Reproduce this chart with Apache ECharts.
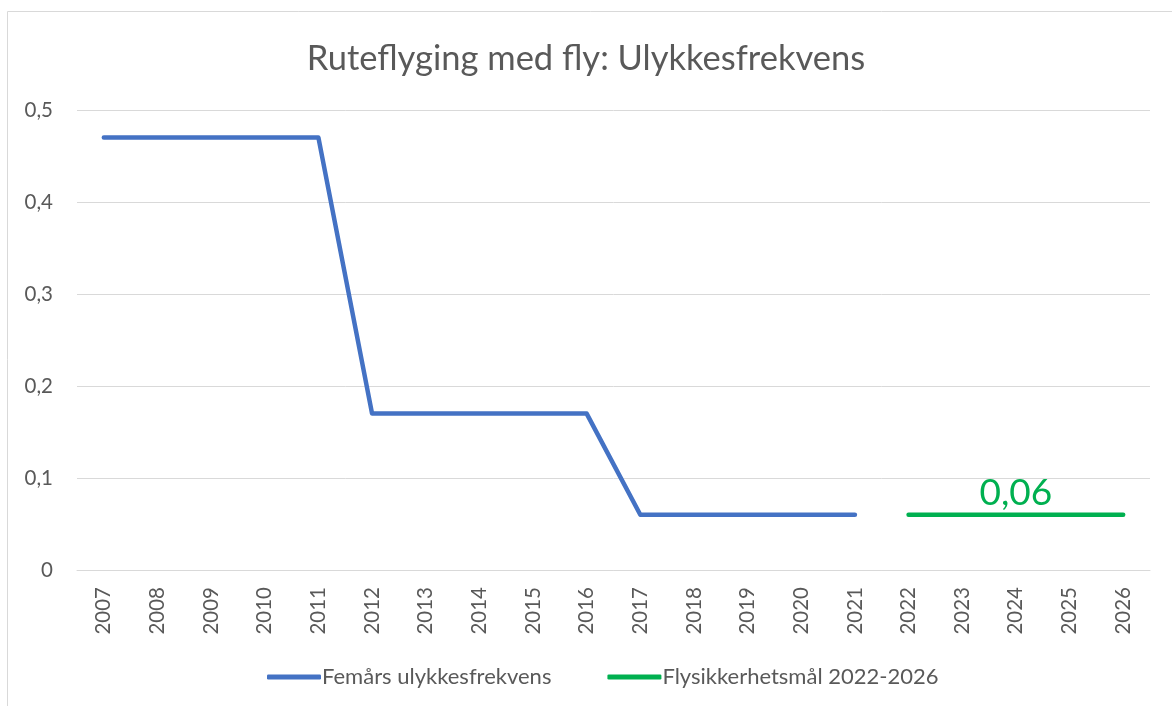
<!DOCTYPE html>
<html>
<head>
<meta charset="utf-8">
<script src="https://cdn.jsdelivr.net/npm/echarts@6/dist/echarts.min.js"></script>
<style>
html,body{margin:0;padding:0;background:#fff;}
#c{width:1172px;height:706px;}
</style>
</head>
<body>
<div id="c"></div>
<script>
const titleText = 'Ruteflyging med fly: Ulykkesfrekvens';
const years = ['2007','2008','2009','2010','2011','2012','2013','2014','2015','2016','2017','2018','2019','2020','2021','2022','2023','2024','2025','2026'];
const seriesNames = ['Femårs ulykkesfrekvens', 'Flysikkerhetsmål 2022-2026'];
const frekvens = [0.47,0.47,0.47,0.47,0.47,0.17,0.17,0.17,0.17,0.17,0.06,0.06,0.06,0.06,0.06,null,null,null,null,null];
const maal = [null,null,null,null,null,null,null,null,null,null,null,null,null,null,null,0.06,0.06,0.06,0.06,0.06];
const labelYear = '2024';

const FONT = 'Lato';
const maalData = maal.map((v, i) => years[i] === labelYear && v != null
  ? { value: v, label: { show: true, formatter: (p) => String(p.value).replace('.', ',') } }
  : v);

const chart = echarts.init(document.getElementById('c'), null, { renderer: 'canvas' });
chart.setOption({
  animation: false,
  textStyle: { fontFamily: FONT },
  graphic: [{
    type: 'rect', silent: true,
    shape: { x: 7.5, y: 11.5, width: 1300, height: 900 },
    style: { fill: 'none', stroke: '#d9d9d9', lineWidth: 1 }
  }],
  title: {
    text: titleText, left: 'center', top: 36,
    textStyle: { fontFamily: FONT, fontSize: 34.5, fontWeight: 'normal', color: '#595959' }
  },
  legend: {
    data: seriesNames, left: 262, top: 661, itemGap: 56,
    itemWidth: 54, itemHeight: 5, icon: 'roundRect',
    textStyle: { fontFamily: FONT, fontSize: 22, color: '#595959', padding: [0, 0, 0, -4] }
  },
  grid: { left: 77, right: 22, top: 110, bottom: 136, containLabel: false },
  xAxis: {
    type: 'category', data: years, boundaryGap: true,
    axisLine: { lineStyle: { color: '#d9d9d9', width: 1 } },
    axisTick: { show: false },
    axisLabel: { rotate: 90, color: '#595959', fontSize: 20.5, margin: 17, fontFamily: FONT, interval: 0 }
  },
  yAxis: {
    type: 'value', min: 0, max: 0.5, interval: 0.1,
    axisLine: { show: false }, axisTick: { show: false },
    splitLine: { lineStyle: { color: '#d9d9d9', width: 1 } },
    axisLabel: { color: '#595959', fontSize: 20.5, margin: 24, fontFamily: FONT,
      formatter: (v) => String(Math.round(v * 10) / 10).replace('.', ',') }
  },
  series: [
    {
      name: seriesNames[0], type: 'line', data: frekvens,
      symbol: 'none', connectNulls: false,
      lineStyle: { color: '#4472C4', width: 4.5, cap: 'round', join: 'round' },
      itemStyle: { color: '#4472C4' }
    },
    {
      name: seriesNames[1], type: 'line', data: maalData,
      symbol: 'circle', symbolSize: 0, showSymbol: true,
      lineStyle: { color: '#00B050', width: 4.5, cap: 'round', join: 'round' },
      itemStyle: { color: '#00B050' },
      label: { show: false, position: 'top', distance: 3, color: '#00B050', fontSize: 37, fontFamily: FONT }
    }
  ]
});
</script>
</body>
</html>
